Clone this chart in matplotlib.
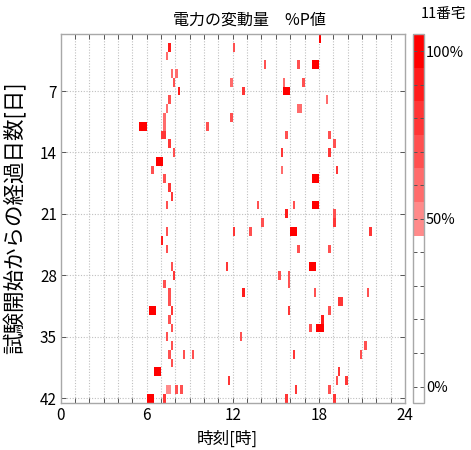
import numpy as np
import matplotlib
matplotlib.use("Agg")
import matplotlib.pyplot as plt
from matplotlib.colors import ListedColormap, BoundaryNorm
from matplotlib.cm import ScalarMappable

plt.rcParams['font.family'] = ['Noto Sans CJK JP', 'DejaVu Sans']

# ---- data: events (day, start slot of 10 min, number of slots, value %) ----
ev_day = [1,
          2, 2,
          3,
          4, 4, 4,
          5, 5,
          6, 6, 6, 6,
          7, 7, 7,
          8, 8,
          9, 9, 9,
          10, 10,
          11, 11, 11,
          12, 12, 12,
          13, 13,
          14, 14, 14,
          15,
          16, 16, 16,
          17, 17,
          18,
          19,
          20, 20, 20, 20,
          21, 21,
          22, 22,
          23, 23, 23, 23, 23,
          24,
          25, 25, 25,
          27, 27, 27,
          28, 28, 28,
          29, 29,
          30, 30, 30, 30,
          31, 31,
          32, 32, 32, 32,
          33, 33,
          34, 34, 34,
          35, 35,
          36, 36,
          37, 37, 37, 37, 37,
          38,
          39, 39,
          40, 40, 40,
          41, 41, 41, 41, 41,
          42, 42, 42, 42]
ev_slot = [108,
           45, 72,
           44,
           85, 99, 105,
           46, 48,
           47, 71, 93, 101,
           49, 76, 93,
           45, 111,
           44, 99, 100,
           43, 71,
           33, 43, 61,
           42, 94, 112,
           45, 114,
           47, 92, 112,
           40,
           38, 92, 115,
           43, 105,
           45,
           46,
           44, 82, 97, 105,
           94, 114,
           84, 114,
           44, 72, 79, 96, 129,
           42,
           44, 99, 112,
           46, 69, 104,
           47, 91, 95,
           43, 95,
           45, 76, 106, 128,
           45, 116,
           37, 46, 95, 112,
           45, 109,
           46, 104, 107,
           44, 75,
           46, 127,
           45, 51, 55, 97, 125,
           46,
           39, 116,
           70, 115, 119,
           44, 48, 50, 98, 112,
           36, 43, 94, 114]
ev_len = [1,
          1, 1,
          1,
          1, 1, 3,
          1, 1,
          1, 1, 1, 1,
          1, 1, 3,
          1, 1,
          1, 1, 1,
          1, 1,
          3, 1, 1,
          2, 1, 1,
          1, 1,
          1, 1, 1,
          3,
          1, 1, 1,
          1, 3,
          1,
          1,
          1, 1, 1, 3,
          1, 1,
          1, 1,
          1, 1, 1, 3, 1,
          1,
          1, 1, 1,
          1, 1, 3,
          1, 1, 1,
          1, 1,
          1, 1, 1, 1,
          1, 2,
          3, 1, 1, 1,
          1, 1,
          1, 1, 3,
          1, 1,
          1, 1,
          1, 1, 1, 1, 1,
          1,
          3, 1,
          1, 1, 1,
          2, 1, 1, 1, 1,
          3, 1, 1, 1]
ev_val = [100,
          90, 70,
          60,
          70, 70, 100,
          60, 60,
          70, 60, 60, 70,
          90, 80, 100,
          70, 60,
          60, 60, 60,
          60, 70,
          100, 60, 70,
          80, 70, 70,
          80, 70,
          70, 80, 80,
          100,
          70, 60, 80,
          70, 100,
          80,
          80,
          70, 70, 70, 100,
          90, 70,
          70, 80,
          70, 80, 70, 100, 80,
          90,
          70, 70, 70,
          70, 80, 100,
          80, 70, 70,
          70, 70,
          70, 90, 70, 70,
          70, 80,
          100, 80, 80, 70,
          70, 90,
          70, 70, 100,
          70, 70,
          70, 70,
          70, 70, 70, 80, 70,
          70,
          100, 80,
          80, 70, 80,
          50, 70, 70, 80, 70,
          100, 80, 80, 80]

n_days = 42
slots_per_hour = 6
n_slots = 24 * slots_per_hour

xticks = [0, 6, 12, 18, 24]
yticks = [7, 14, 21, 28, 35, 42]
cb_ticks = [0, 50, 100]
cb_labels = ['0%', '50%', '100%']

# ---- build grid ----
Z = np.zeros((n_days, n_slots))
for d, s, l, v in zip(ev_day, ev_slot, ev_len, ev_val):
    Z[d - 1, s:s + l] = v
Zm = np.ma.masked_where(Z < 45, Z)

x_edges = np.arange(n_slots + 1) / slots_per_hour
y_edges = np.arange(n_days + 1) + 0.5

colors = ['#ffffff'] * 5 + ['#ff8a8a', '#ff6c6c', '#ff5050', '#ff3636', '#ff1c1c', '#ff0000']
cmap = ListedColormap(colors)
cmap.set_bad((1, 1, 1, 0))
bounds = np.arange(-5, 106, 10)
norm = BoundaryNorm(bounds, cmap.N)

W, H = 471, 450
fig = plt.figure(figsize=(W / 100, H / 100), dpi=100)

def fx(px):
    return px / W

def fy(py):
    return 1 - py / H

ax_l, ax_r, ax_t, ax_b = 60.5, 405, 34, 402.5
ax = fig.add_axes([fx(ax_l), fy(ax_b), fx(ax_r - ax_l), (ax_b - ax_t) / H])

spine_col = '#a8a8a8'
grid_col = '#c0c0c0'

mesh = ax.pcolormesh(x_edges, y_edges, Zm, cmap=cmap, norm=norm, shading='flat', zorder=2)
ax.set_xlim(0, 24)
ax.set_ylim(n_days + 0.5, 0.5)

for h in range(1, 24):
    ax.axvline(h, color=grid_col, lw=0.8, ls=(0, (1, 1.5)), zorder=1)
for d in yticks:
    ax.axhline(d, color=grid_col, lw=0.8, ls=(0, (1, 1.5)), zorder=1)

ax.set_xticks(xticks)
ax.set_xticks(np.arange(0, 25, 1), minor=True)
ax.set_yticks(yticks)
ax.tick_params(axis='both', which='both', direction='in', top=True, right=True,
               length=3.5, width=0.7, color='#555555', labelsize=11, pad=2.5)
ax.tick_params(axis='x', which='major', pad=3)
for sp in ax.spines.values():
    sp.set_color(spine_col)
    sp.set_linewidth(1.0)

# colorbar
cax = fig.add_axes([fx(413), fy(403.3), fx(11), (403.3 - 34.3) / H])
sm = ScalarMappable(norm=norm, cmap=ListedColormap(colors))
cb = fig.colorbar(sm, cax=cax)
cb.outline.set_edgecolor(spine_col)
cb.outline.set_linewidth(1.0)
cax.set_yticks(cb_ticks, labels=cb_labels)
cax.set_yticks(np.arange(0, 101, 10), minor=True)
cax.tick_params(which='both', direction='in', left=True, right=True, length=3,
                width=0.7, color='#555555', labelsize=10.5, pad=1.5)

# texts
fig.text(fx(249), fy(20), '電力の変動量　%P値', ha='center', va='center', fontsize=11.5)
fig.text(fx(443), fy(14), '11番宅', ha='center', va='center', fontsize=10.5)
fig.text(fx(227.5), fy(439.5), '時刻[時]', ha='center', va='center', fontsize=12)
fig.text(fx(15), fy(218), '試験開始からの経過日数[日]', ha='center', va='center',
         rotation=90, fontsize=15.5)

fig.savefig('out.png', dpi=100)
